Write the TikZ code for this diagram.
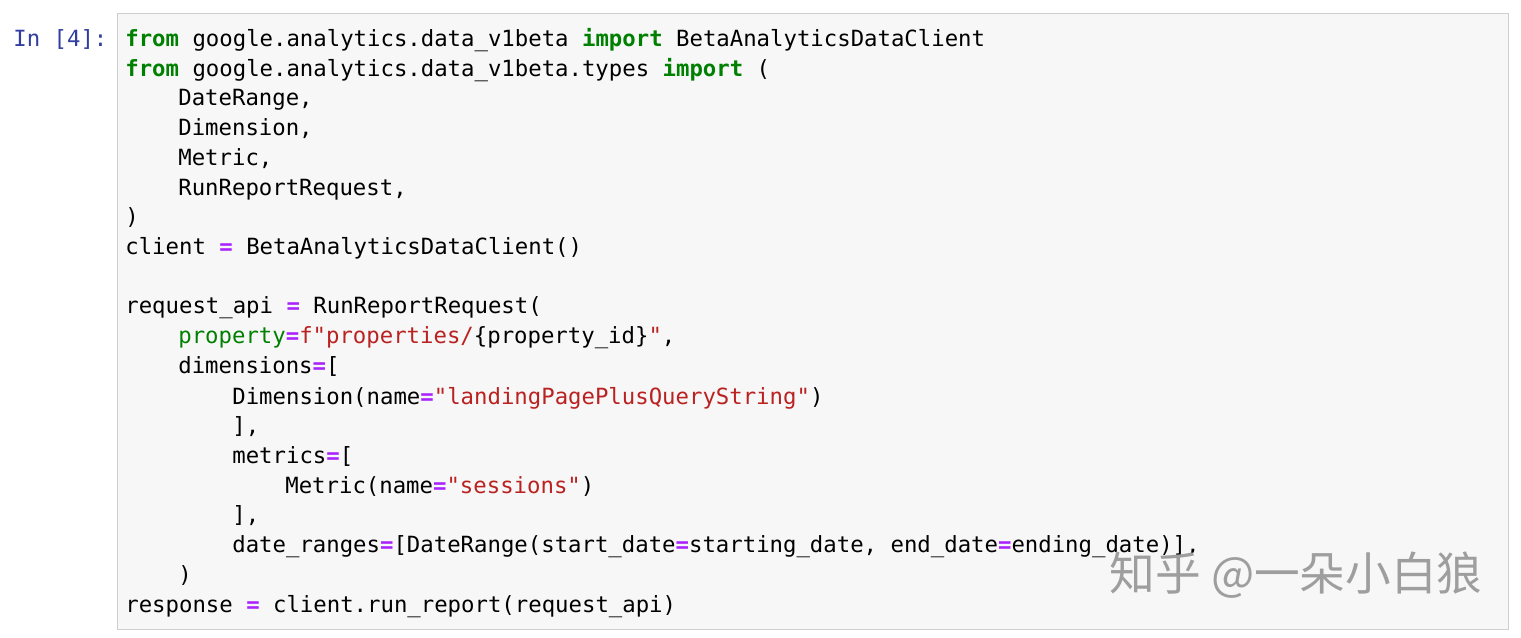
\documentclass[tikz,border=0pt]{standalone}
\usepackage{fontspec}
\usepackage{xcolor}
\setmonofont{DejaVu Sans Mono}
\newfontfamily\cjk{Noto Sans CJK SC}
\definecolor{kwgreen}{HTML}{008000}
\definecolor{oppurple}{HTML}{AA22FF}
\definecolor{strred}{HTML}{BA2121}
\definecolor{promptblue}{HTML}{303F9F}
\definecolor{cellbg}{HTML}{F7F7F7}
\definecolor{cellborder}{HTML}{CFCFCF}
\newcommand{\kw}[1]{\textcolor{kwgreen}{\bfseries #1}}
\newcommand{\op}[1]{\textcolor{oppurple}{\bfseries #1}}
\newcommand{\str}[1]{\textcolor{strred}{#1}}
\tikzset{
  codeline/.style={anchor=base west, inner sep=0pt, font=\ttfamily\fontsize{12.7}{15}\selectfont},
}
\begin{document}
\begin{tikzpicture}[x=0.02cm,y=-0.02cm]
  \useasboundingbox (0,0) rectangle (1521,638);
  \fill[white] (0,0) rectangle (1521,638);
  % cell box
  \draw[cellborder, fill=cellbg] (117,13) rectangle (1508,629);
  \node[codeline, text=promptblue] (prompt) at (13,47) {In [4]:};
  % code lines
  \node[codeline] (l1)  at (125,47)  {\kw{from} google.analytics.data\_v1beta \kw{import} BetaAnalyticsDataClient};
  \node[codeline] (l2)  at (125,77)  {\kw{from} google.analytics.data\_v1beta.types \kw{import} (};
  \node[codeline] (l3)  at (178,106) {DateRange,};
  \node[codeline] (l4)  at (178,136) {Dimension,};
  \node[codeline] (l5)  at (178,166) {Metric,};
  \node[codeline] (l6)  at (178,196) {RunReportRequest,};
  \node[codeline] (l7)  at (125,225) {)};
  \node[codeline] (l8)  at (125,255) {client \op{=} BetaAnalyticsDataClient()};
  \node[codeline] (l10) at (125,314) {request\_api \op{=} RunReportRequest(};
  \node[codeline] (l11) at (178,344) {\textcolor{kwgreen}{property}\op{=}\str{f"properties/}\{property\_id\}\str{"},};
  \node[codeline] (l12) at (178,374) {dimensions\op{=}[};
  \node[codeline] (l13) at (232,404) {Dimension(name\op{=}\str{"landingPagePlusQueryString"})};
  \node[codeline] (l14) at (232,433) {],};
  \node[codeline] (l15) at (232,463) {metrics\op{=}[};
  \node[codeline] (l16) at (285,493) {Metric(name\op{=}\str{"sessions"})};
  \node[codeline] (l17) at (232,522) {],};
  \node[codeline] (l18) at (232,552) {date\_ranges\op{=}[DateRange(start\_date\op{=}starting\_date, end\_date\op{=}ending\_date)],};
  \node[codeline] (l19) at (178,582) {)};
  \node[codeline] (l20) at (125,612) {response \op{=} client.run\_report(request\_api)};
  % watermark
  \node[anchor=center, inner sep=0pt, text=black!38, font=\cjk\fontsize{26}{30}\selectfont] (mark) at (1296,575) {知乎 @一朵小白狼};
\end{tikzpicture}
\end{document}
